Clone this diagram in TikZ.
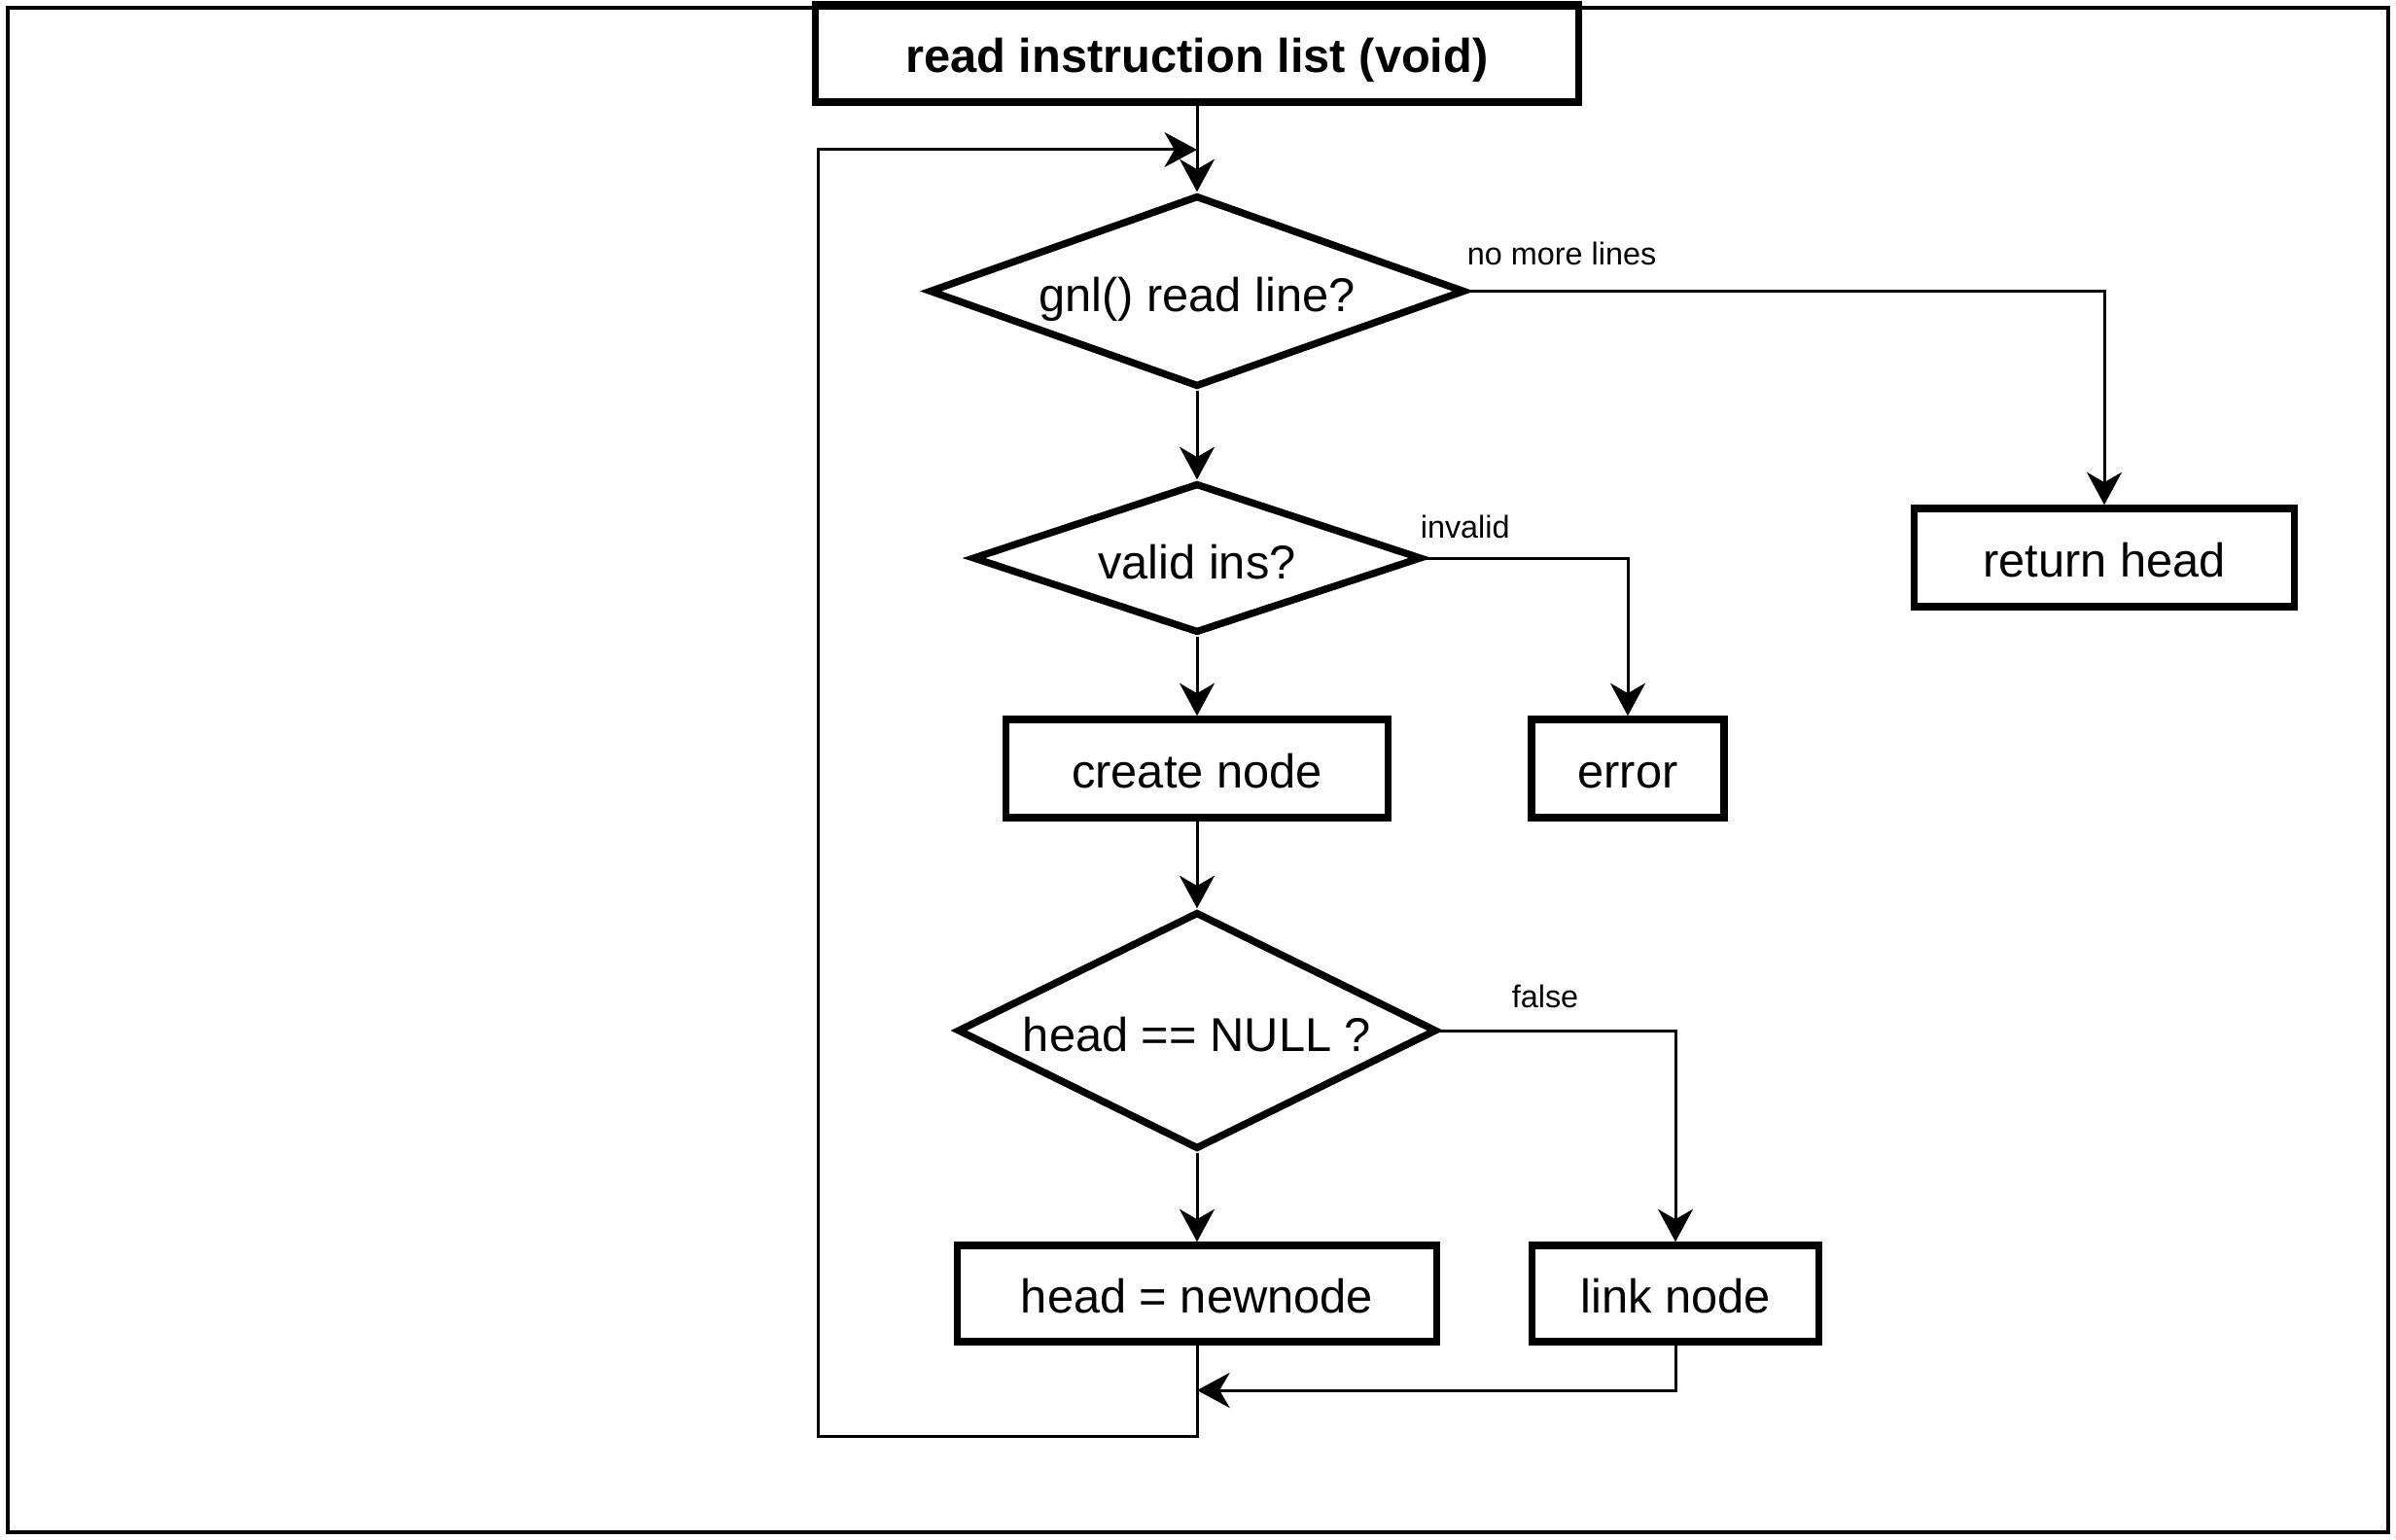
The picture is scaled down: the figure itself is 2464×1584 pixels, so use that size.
\documentclass[tikz,border=0pt]{standalone}
\usepackage{fontspec}
\setmainfont{Liberation Sans}
\usetikzlibrary{shapes.geometric,arrows.meta}
\tikzset{
  box/.style={draw, line width=1.85pt, rectangle, inner sep=0pt, align=center,
    text height=10pt, text depth=0pt,
    font=\fontsize{12.2}{14}\selectfont},
  dec/.style={draw, line width=1.85pt, diamond, inner sep=0pt, align=center,
    text height=10.5pt, text depth=0pt,
    font=\fontsize{12.2}{14}\selectfont},
  conn/.style={line width=0.75pt},
  arr/.style={conn, -{Stealth[length=8.4pt, width=9pt, inset=2.6pt]}},
  lbl/.style={font=\fontsize{8.1}{9.5}\selectfont, inner sep=0pt}
}
\begin{document}
\begin{tikzpicture}[x=0.25pt, y=-0.25pt]
\useasboundingbox (0,0) rectangle (2464,1584);
\draw[line width=0.9pt] (8,8) rectangle (2456,1576);

\node[box, minimum width=196.25pt, minimum height=25pt, font=\fontsize{12.2}{14}\selectfont\bfseries] (title) at (1231,55) {read instruction list (void)};
\node[dec, minimum width=137.75pt, minimum height=49.25pt, aspect=2.8] (d1) at (1231,299.5) {gnl() read line?};
\node[box, minimum width=97.75pt, minimum height=25.25pt] (rh) at (2164,573.5) {return head};
\node[dec, minimum width=115.5pt, minimum height=38.5pt, aspect=3] (d2) at (1231,574) {valid ins?};
\node[box, minimum width=98.25pt, minimum height=25.25pt] (cn) at (1231,790.5) {create node};
\node[box, minimum width=49.5pt, minimum height=25.25pt] (err) at (1674,790.5) {error};
\node[dec, minimum width=123.25pt, minimum height=61pt, aspect=2.02] (d3) at (1231,1060) {head == NULL ?};
\node[box, minimum width=123.25pt, minimum height=24.75pt] (hn) at (1231,1330.5) {head = newnode};
\node[box, minimum width=73.75pt, minimum height=24.75pt] (ln) at (1723,1330.5) {link node};

\coordinate (loopin) at (1231,154);
\coordinate (loopT) at (841,154);
\coordinate (loopL) at (841,1477);
\coordinate (loopB) at (1231,1477);
\coordinate (join) at (1231,1430);

\draw[arr] (title) -- (d1);
\draw[arr] (d1) -- (d2);
\draw[arr] (d2) -- (cn);
\draw[arr] (cn) -- (d3);
\draw[arr] (d3) -- (hn);
\draw[arr] (d1.east) -| (rh.north);
\draw[arr] (d2.east) -| (err.north);
\draw[arr] (d3.east) -| (ln.north);
\draw[arr] (ln.south) |- (join);
\draw[arr] (hn.south) -- (loopB) -- (loopL) -- (loopT) -- (loopin);

\node[lbl, anchor=west] (l1) at (1508,261) {no more lines};
\node[lbl, anchor=west] (l2) at (1460,542) {invalid};
\node[lbl, anchor=west] (l3) at (1554,1025) {false};
\end{tikzpicture}
\end{document}
